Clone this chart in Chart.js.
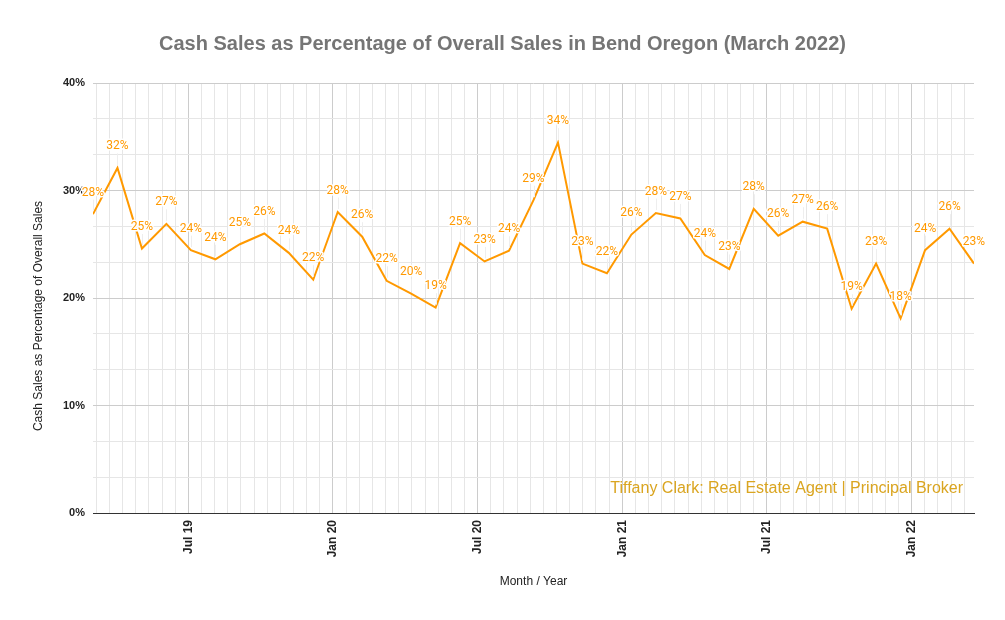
<!DOCTYPE html>
<html>
<head>
<meta charset="utf-8">
<title>Cash Sales Bend Oregon</title>
<script src="https://cdn.jsdelivr.net/npm/chart.js@4/dist/chart.umd.min.js"></script>
<style>
    html, body { margin: 0; padding: 0; background: #fff; }
    #wrap { width: 1005px; height: 620px; position: relative; }
</style>
</head>
<body>
<div id="wrap"><canvas id="lineChart"></canvas></div>
<script>
// monthly data, Mar 2019 -> Mar 2022
const months = [
    'Mar 19', 'Apr 19', 'May 19', 'Jun 19', 'Jul 19', 'Aug 19', 'Sep 19', 'Oct 19', 'Nov 19', 'Dec 19',
    'Jan 20', 'Feb 20', 'Mar 20', 'Apr 20', 'May 20', 'Jun 20', 'Jul 20', 'Aug 20', 'Sep 20', 'Oct 20',
    'Nov 20', 'Dec 20', 'Jan 21', 'Feb 21', 'Mar 21', 'Apr 21', 'May 21', 'Jun 21', 'Jul 21', 'Aug 21',
    'Sep 21', 'Oct 21', 'Nov 21', 'Dec 21', 'Jan 22', 'Feb 22', 'Mar 22'
];
const cashPct = [
    27.8, 32.1, 24.6, 26.9, 24.45, 23.6, 25.0, 26.0, 24.2, 21.7,
    28.0, 25.7, 21.6, 20.4, 19.1, 25.1, 23.4, 24.4, 29.1, 34.45,
    23.2, 22.3, 25.9, 27.9, 27.4, 24.0, 22.7, 28.3, 25.8, 27.1,
    26.45, 19.0, 23.2, 18.1, 24.45, 26.45, 23.2
];
const xTickLabels = ['Jul 19', 'Jan 20', 'Jul 20', 'Jan 21', 'Jul 21', 'Jan 22'];
const yTickLabels = ['0%', '10%', '20%', '30%', '40%'];

const LINE_COLOR = '#ff9900';
const MAJOR_GRID = '#cccccc';
const MINOR_GRID = '#e6e6e6';
const FONT = '"Liberation Sans", Arial, sans-serif';

// major x gridlines are evenly spaced (in month-index units), 10 minor lines between
const X_FIRST_MAJOR = 3.895;
const X_MAJOR_STEP = 5.911;
const X_MINOR_DIV = 11;

function buildXTicks(scale) {
    const ticks = [];
    const step = X_MAJOR_STEP / X_MINOR_DIV;
    for (let j = -X_MINOR_DIV; j <= X_MINOR_DIV * (xTickLabels.length + 1); j++) {
        const v = X_FIRST_MAJOR + j * step;
        if (v <= scale.min + 0.01 || v >= scale.max - 0.01) continue;
        const isMajor = j % X_MINOR_DIV === 0;
        ticks.push({ value: v, major: isMajor, name: isMajor ? xTickLabels[j / X_MINOR_DIV] : '' });
    }
    scale.ticks = ticks;
}

function buildYTicks(scale) {
    const ticks = [];
    for (let k = 0; k <= 12; k++) {
        const isMajor = k % 3 === 0;
        ticks.push({ value: k * 10 / 3, major: isMajor, name: isMajor ? yTickLabels[k / 3] : '' });
    }
    scale.ticks = ticks;
}

const pointLabels = {
    id: 'pointLabels',
    afterDatasetsDraw(chart) {
        const ctx = chart.ctx;
        const meta = chart.getDatasetMeta(0);
        ctx.save();
        meta.data.forEach(function (pt, i) {
            const ty = pt.y - 21.5;
            ctx.strokeStyle = '#eeeeee';
            ctx.lineWidth = 1;
            ctx.beginPath();
            ctx.moveTo(Math.round(pt.x) + 0.5, ty + 7);
            ctx.lineTo(Math.round(pt.x) + 0.5, pt.y - 3);
            ctx.stroke();

            const txt = Math.round(cashPct[i]) + '%';
            ctx.font = '12px Roboto';
            ctx.textAlign = 'center';
            ctx.textBaseline = 'middle';
            ctx.lineJoin = 'round';
            ctx.lineWidth = 3;
            ctx.strokeStyle = '#ffffff';
            ctx.strokeText(txt, pt.x, ty);
            ctx.fillStyle = LINE_COLOR;
            ctx.fillText(txt, pt.x, ty);
        });
        ctx.restore();
    }
};

// title is centred on the page and the y title sits a bit low, so both are drawn by hand
const extras = {
    id: 'extras',
    afterDraw(chart) {
        const ctx = chart.ctx;
        const area = chart.chartArea;
        ctx.save();
        ctx.font = 'bold 20px ' + FONT;
        ctx.fillStyle = '#757575';
        ctx.textAlign = 'center';
        ctx.textBaseline = 'middle';
        ctx.fillText('Cash Sales as Percentage of Overall Sales in Bend Oregon (March 2022)', chart.width / 2, 44);

        ctx.font = '16px ' + FONT;
        ctx.fillStyle = '#daa520';
        ctx.textAlign = 'right';
        ctx.fillText('Tiffany Clark: Real Estate Agent | Principal Broker', area.right - 11, area.bottom - 24);

        ctx.translate(38.5, 316);
        ctx.rotate(-Math.PI / 2);
        ctx.font = '12px ' + FONT;
        ctx.fillStyle = '#222222';
        ctx.textAlign = 'center';
        ctx.fillText('Cash Sales as Percentage of Overall Sales', 0, 0);
        ctx.restore();
    }
};

function renderChart() {
    const ctx = document.getElementById('lineChart').getContext('2d');
    new Chart(ctx, {
        type: 'line',
        data: {
            labels: months,
            datasets: [{
                label: 'Cash Sales as Percentage of Overall Sales',
                data: cashPct.map(function (v, i) { return { x: i, y: v }; }),
                borderColor: LINE_COLOR,
                backgroundColor: LINE_COLOR,
                borderWidth: 2,
                pointRadius: 0,
                tension: 0,
                fill: false
            }]
        },
        options: {
            responsive: true,
            maintainAspectRatio: false,
            animation: false,
            layout: { padding: { left: 0, right: 31, top: 83, bottom: 0 } },
            plugins: {
                legend: { display: false },
                tooltip: { enabled: false },
                title: { display: false }
            },
            scales: {
                x: {
                    type: 'linear',
                    min: 0,
                    max: months.length - 1,
                    afterBuildTicks: buildXTicks,
                    afterFit: function (scale) { scale.height = 107; },
                    grid: {
                        drawTicks: false,
                        color: function (c) { return c.tick && c.tick.major ? MAJOR_GRID : MINOR_GRID; }
                    },
                    border: { display: true, color: '#333333', width: 1 },
                    ticks: {
                        autoSkip: false,
                        minRotation: 90,
                        maxRotation: 90,
                        padding: 7,
                        color: '#222222',
                        font: { family: FONT, size: 12, weight: 'bold' },
                        callback: function (value, index, ticks) { return ticks[index].name; }
                    },
                    title: {
                        display: true,
                        text: 'Month / Year',
                        color: '#222222',
                        font: { family: FONT, size: 12 },
                        padding: { top: 0, bottom: 31 }
                    }
                },
                y: {
                    min: 0,
                    max: 40,
                    afterBuildTicks: buildYTicks,
                    afterFit: function (scale) { scale.width = 93; },
                    grid: {
                        drawTicks: false,
                        color: function (c) { return c.tick && c.tick.major ? MAJOR_GRID : MINOR_GRID; }
                    },
                    border: { display: false },
                    ticks: {
                        autoSkip: false,
                        padding: 8,
                        color: '#222222',
                        font: { family: FONT, size: 11, weight: 'bold' },
                        callback: function (value, index, ticks) { return ticks[index].name; }
                    }
                }
            }
        },
        plugins: [pointLabels, extras]
    });
}

renderChart();
</script>
</body>
</html>
